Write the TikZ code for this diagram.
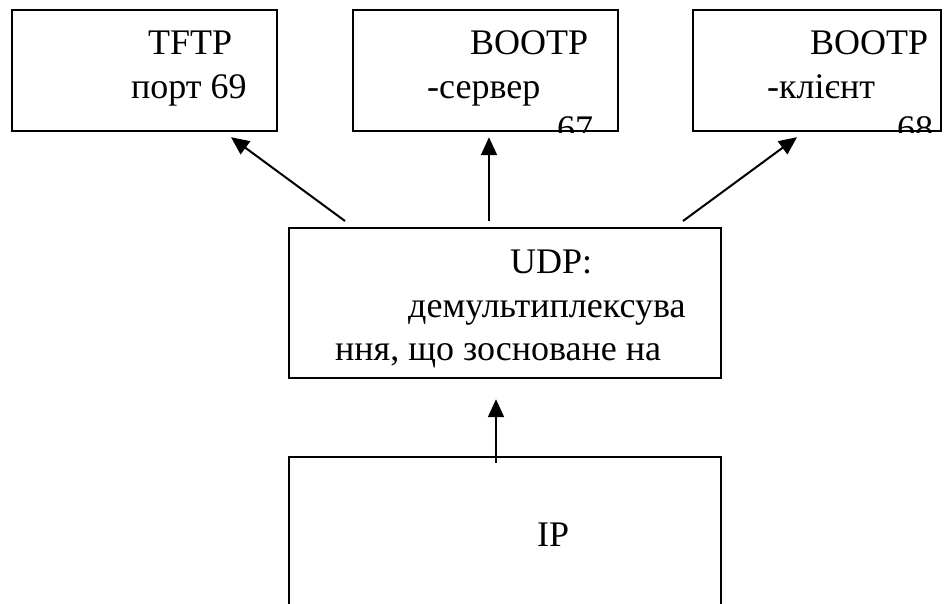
\documentclass[tikz,border=0pt]{standalone}
\usepackage{fontspec}
\setmainfont{Liberation Serif}
\usetikzlibrary{arrows.meta,calc}

\begin{document}
\begin{tikzpicture}[x=1pt,y=-1pt,font=\fontsize{36}{44}\selectfont,
    layerbox/.style={draw,line width=2.2pt,anchor=north west,inner sep=0pt},
    boxtext/.style={anchor=base west,inner sep=0pt},
    flow/.style={line width=2pt,-{Triangle[length=18pt,width=16pt]}}]
  % Pixel grid of the page: x to the right, y downwards.
  \useasboundingbox (0,0) rectangle (944,604);
  \clip (0,0) rectangle (944,604);

  \node[layerbox,minimum width=265pt,minimum height=121pt] (tftp) at (11,9) {};
  \node[layerbox,minimum width=265pt,minimum height=121pt] (bootps) at (352,9) {};
  \node[layerbox,minimum width=248pt,minimum height=121pt] (bootpc) at (692,9) {};
  \node[layerbox,minimum width=432pt,minimum height=150pt] (udp) at (288,227) {};
  \node[layerbox,minimum width=432pt,minimum height=190pt] (ip) at (288,456) {};

  \node[boxtext] (tftpname) at (148,55) {TFTP};
  \node[boxtext] (tftpport) at (131,99) {порт 69};
  \node[boxtext] (bootpsname) at (470,55) {BOOTP};
  \node[boxtext] (bootpsrole) at (427,99) {-сервер};
  \node[boxtext] (bootpcname) at (810,55) {BOOTP};
  \node[boxtext] (bootpcrole) at (767,99) {-клієнт};
  \begin{scope}
    \clip (bootps.south west) rectangle (bootps.north east);
    \node[boxtext] (bootpsport) at (557,141) {67};
  \end{scope}
  \begin{scope}
    \clip (bootpc.south west) rectangle (bootpc.north east);
    \node[boxtext] (bootpcport) at (897,141) {68};
  \end{scope}
  \node[boxtext] (udpname) at (510,273) {UDP:};
  \node[boxtext] (udplinea) at (408,317) {демультиплексува};
  \node[boxtext] (udplineb) at (335,360) {ння, що зосноване на};
  \node[boxtext] (ipname) at (537,546) {IP};

  \draw[flow] ($(udp.north west)+(57,-6)$) -- ($(tftp.south west)+(220,5)$);
  \draw[flow] ($(udp.north west)+(201,-6)$) -- ($(bootps.south west)+(137,5)$);
  \draw[flow] ($(udp.north west)+(395,-6)$) -- ($(bootpc.south west)+(105,5)$);
  \draw[flow] ($(ip.north west)+(208,7)$) -- ($(udp.south west)+(208,20)$);
\end{tikzpicture}
\end{document}
